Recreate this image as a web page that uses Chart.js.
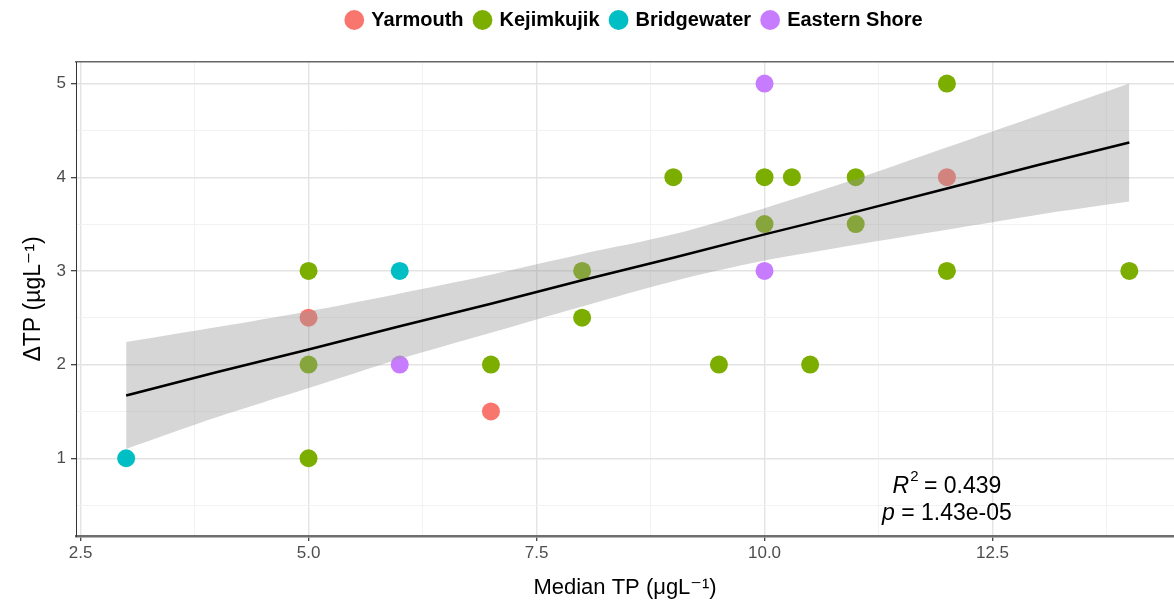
<!DOCTYPE html>
<html>
<head>
<meta charset="utf-8">
<script src="https://cdn.jsdelivr.net/npm/chart.js@4.4.0/dist/chart.umd.min.js"></script>
<style>
html,body{margin:0;padding:0;background:#fff;}
#wrap{width:1174px;height:605px;}
</style>
</head>
<body>
<div id="wrap"><canvas id="mycanvas" width="1174" height="605"></canvas></div>
<script>
// sites and colours
var siteNames = ['Yarmouth', 'Kejimkujik', 'Bridgewater', 'Eastern Shore'];
var siteColours = ['#F8766D', '#7CAE00', '#00BFC4', '#C77CFF'];

// median TP (x) against change in TP (y), one pair of arrays per site
var yarmouthX = [5, 7, 12];
var yarmouthY = [2.5, 1.5, 4];
var kejimkujikX = [5, 5, 5, 7, 8, 8, 9, 9.5, 10, 10, 10.3, 10.5, 11, 11, 12, 12, 14];
var kejimkujikY = [3, 2, 1, 2, 3, 2.5, 4, 2, 4, 3.5, 4, 2, 4, 3.5, 5, 3, 3];
var bridgewaterX = [3, 6];
var bridgewaterY = [1, 3];
var easternX = [6, 10, 10];
var easternY = [2, 5, 3];

// linear fit and its confidence band
var fitX = [3, 4, 5, 6, 7, 8, 9, 10, 11, 12, 13, 14];
var fitY = [1.67, 1.92, 2.16, 2.41, 2.65, 2.90, 3.14, 3.39, 3.63, 3.88, 4.13, 4.37];
var bandUpper = [2.24, 2.40, 2.57, 2.76, 2.96, 3.18, 3.39, 3.67, 3.98, 4.32, 4.66, 5.00];
var bandLower = [1.10, 1.44, 1.75, 2.06, 2.34, 2.62, 2.89, 3.11, 3.28, 3.44, 3.60, 3.74];

var statR2 = '0.439';
var statP = '1.43e-05';

// tick values
var xTicks = [2.5, 5, 7.5, 10, 12.5];
var xMinor = [3.75, 6.25, 8.75, 11.25, 13.75];
var yTicks = [1, 2, 3, 4, 5];
var yMinor = [0.5, 1.5, 2.5, 3.5, 4.5];

var FONT = "'Liberation Sans', Arial, 'DejaVu Sans', sans-serif";
Chart.defaults.font.family = FONT;

function pairs(xs, ys){
	var out = [];
	for (var i = 0; i < xs.length; i++) out.push({x: xs[i], y: ys[i]});
	return out;
}

function site(i, xs, ys){
	return {
		label: siteNames[i],
		data: pairs(xs, ys),
		backgroundColor: siteColours[i],
		borderColor: siteColours[i],
		borderWidth: 0,
		pointRadius: 9,
		pointHoverRadius: 9,
		pointStyle: 'circle'
	};
}

function isMajor(list, v){
	for (var i = 0; i < list.length; i++) if (Math.abs(list[i] - v) < 1e-9) return true;
	return false;
}

// R2 / p text in the lower right of the panel
var statsText = {
	id: 'statsText',
	afterDatasetsDraw: function(chart){
		var c = chart.ctx;
		var cx = chart.scales.x.getPixelForValue(12);
		var y1 = chart.scales.y.getPixelForValue(0.70);
		var y2 = chart.scales.y.getPixelForValue(0.41);
		c.save();
		c.fillStyle = '#000';
		c.textBaseline = 'middle';
		var it = 'italic 23px ' + FONT, nm = '23px ' + FONT, sm = '15px ' + FONT;
		c.font = it; var wR = c.measureText('R').width;
		c.font = sm; var w2 = c.measureText('2').width;
		c.font = nm; var wRest = c.measureText(' = ' + statR2).width;
		var x = cx - (wR + w2 + wRest) / 2;
		c.textAlign = 'left';
		c.font = it; c.fillText('R', x, y1);
		c.font = sm; c.fillText('2', x + wR + 1, y1 - 9);
		c.font = nm; c.fillText(' = ' + statR2, x + wR + w2, y1);
		c.font = it; var wp = c.measureText('p').width;
		c.font = nm; var wp2 = c.measureText(' = ' + statP).width;
		x = cx - (wp + wp2) / 2;
		c.font = it; c.fillText('p', x, y2);
		c.font = nm; c.fillText(' = ' + statP, x + wp, y2);
		c.restore();
	}
};

// move the legend so it sits over the middle of the panel
var legendShift = {
	id: 'legendShift',
	afterLayout: function(chart){
		var lg = chart.legend;
		if (lg) { lg.left += 48; lg.right += 48; lg.top -= 2; lg.bottom -= 2; }
	}
};

var ctx = document.getElementById('mycanvas');
var chart = new Chart(ctx, {
	type: 'scatter',
	data: {
		datasets: [
			{
				label: 'fit',
				data: pairs(fitX, fitY),
				showLine: true,
				borderColor: '#000',
				borderWidth: 2.5,
				pointRadius: 0,
				fill: false
			},
			{
				label: 'upper',
				data: pairs(fitX, bandUpper),
				showLine: true,
				borderWidth: 0,
				borderColor: 'rgba(0,0,0,0)',
				backgroundColor: 'rgba(153,153,153,0.4)',
				pointRadius: 0,
				tension: 0.3,
				fill: '+1'
			},
			{
				label: 'lower',
				data: pairs(fitX, bandLower),
				showLine: true,
				borderWidth: 0,
				borderColor: 'rgba(0,0,0,0)',
				pointRadius: 0,
				tension: 0.3,
				fill: false
			},
			site(0, yarmouthX, yarmouthY),
			site(1, kejimkujikX, kejimkujikY),
			site(2, bridgewaterX, bridgewaterY),
			site(3, easternX, easternY)
		]
	},
	options: {
		responsive: false,
		animation: false,
		layout: {autoPadding: false, padding: 0},
		plugins: {
			tooltip: {enabled: false},
			legend: {
				position: 'top',
				labels: {
					usePointStyle: true,
					boxWidth: 14,
					boxHeight: 14,
					padding: 12,
					color: '#000',
					font: {size: 20, weight: 'bold'},
					filter: function(item){ return item.datasetIndex >= 3; }
				}
			}
		},
		scales: {
			x: {
				type: 'linear',
				position: 'bottom',
				min: 2.45,
				max: 14.49,
				afterBuildTicks: function(s){
					s.ticks = xTicks.concat(xMinor).sort(function(a, b){ return a - b; }).map(function(v){ return {value: v}; });
				},
				afterFit: function(s){ s.height = 69; },
				ticks: {
					color: '#4D4D4D',
					font: {size: 17},
					padding: 2,
					maxRotation: 0,
					autoSkip: false,
					callback: function(v){ return isMajor(xTicks, v) ? v.toFixed(1) : ''; }
				},
				grid: {
					color: function(c){ return isMajor(xTicks, c.tick.value) ? '#E3E3E3' : '#F0F0F0'; },
					lineWidth: function(c){ return isMajor(xTicks, c.tick.value) ? 1.4 : 0.9; },
					tickColor: function(c){ return isMajor(xTicks, c.tick.value) ? '#333' : 'rgba(0,0,0,0)'; },
					tickLength: 5,
					tickWidth: 1.2
				},
				border: {color: '#6E6E6E', width: 2.5},
				title: {
					display: true,
					text: 'Median TP (\u03bcgL\u207b\u00b9)',
					color: '#000',
					font: {size: 22},
					padding: {top: 0, bottom: 4}
				}
			},
			xTop: {
				type: 'linear',
				position: 'top',
				min: 2.45,
				max: 14.49,
				afterFit: function(s){ s.height = 20; },
				ticks: {display: false},
				grid: {drawOnChartArea: false, drawTicks: false},
				border: {color: '#666', width: 1.5}
			},
			y: {
				type: 'linear',
				position: 'left',
				min: 0.17,
				max: 5.23,
				afterBuildTicks: function(s){
					s.ticks = yTicks.concat(yMinor).sort(function(a, b){ return a - b; }).map(function(v){ return {value: v}; });
				},
				afterFit: function(s){ s.width = 76; },
				ticks: {
					color: '#4D4D4D',
					font: {size: 17},
					padding: 5,
					autoSkip: false,
					callback: function(v){ return isMajor(yTicks, v) ? String(v) : ''; }
				},
				grid: {
					color: function(c){ return isMajor(yTicks, c.tick.value) ? '#E3E3E3' : '#F0F0F0'; },
					lineWidth: function(c){ return isMajor(yTicks, c.tick.value) ? 1.4 : 0.9; },
					tickColor: function(c){ return isMajor(yTicks, c.tick.value) ? '#333' : 'rgba(0,0,0,0)'; },
					tickLength: 5,
					tickWidth: 1.2
				},
				border: {color: '#333', width: 1},
				title: {
					display: true,
					text: '\u0394TP (\u00b5gL\u207b\u00b9)',
					color: '#000',
					font: {size: 23},
					padding: {top: 20, bottom: 0}
				}
			}
		}
	},
	plugins: [statsText, legendShift]
});
</script>
</body>
</html>
